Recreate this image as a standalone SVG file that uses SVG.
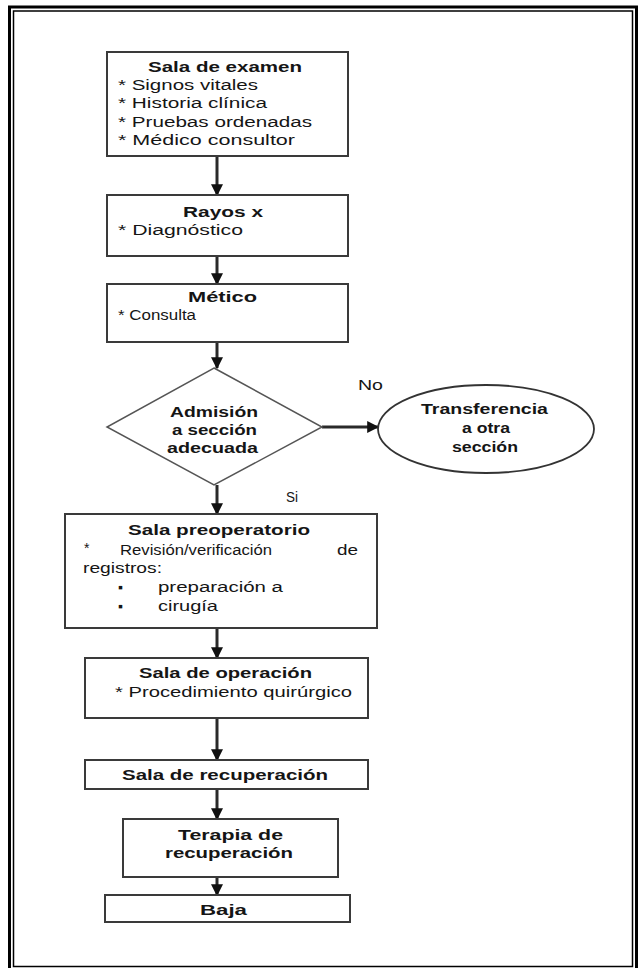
<svg xmlns="http://www.w3.org/2000/svg" width="639" height="968" viewBox="0 0 639 968">
  <style>
    .frame-outer { fill: none; stroke: #000; stroke-width: 3; }
    .frame-inner { fill: none; stroke: #000; stroke-width: 1.5; }
    .box { fill: #fff; stroke: #3a3a3a; stroke-width: 2; }
    .shape { fill: #fff; stroke: #555; stroke-width: 1.5; }
    .ell { fill: #fff; stroke: #333; stroke-width: 1.8; }
    text { font-family: "Liberation Sans", Arial, sans-serif; font-size: 14px; fill: #151515; }
    .conn { stroke: #2a2a2a; stroke-width: 3; fill: none; marker-end: url(#arrow); }
  </style>
  <defs>
    <marker id="arrow" viewBox="0 0 10 10" refX="9" refY="5" markerWidth="4" markerHeight="4" orient="auto" markerUnits="strokeWidth">
      <path d="M0,0 L10,5 L0,10 z" fill="#111"/>
    </marker>
  </defs>

  <rect width="639" height="968" fill="#fff"/>

  <!-- page frame -->
  <rect class="frame-outer" x="9.5" y="7" width="627" height="975"/>
  <rect class="frame-inner" x="13.5" y="11" width="619" height="955.5"/>

  <!-- connectors -->
  <g id="connectors">
    <line class="conn" x1="217" y1="157" x2="217" y2="195"/>
    <line class="conn" x1="217" y1="257" x2="217" y2="284"/>
    <line class="conn" x1="217" y1="343" x2="217" y2="368"/>
    <line class="conn" x1="322" y1="427" x2="378" y2="427"/>
    <line class="conn" x1="217" y1="485" x2="217" y2="514"/>
    <line class="conn" x1="217" y1="629" x2="217" y2="658"/>
    <line class="conn" x1="217" y1="719" x2="217" y2="760"/>
    <line class="conn" x1="217" y1="790" x2="217" y2="819"/>
    <line class="conn" x1="217" y1="878" x2="217" y2="895"/>
    <text x="358" y="390" textLength="25" lengthAdjust="spacingAndGlyphs">No</text>
    <text x="286" y="502" textLength="12" lengthAdjust="spacingAndGlyphs">Si</text>
  </g>

  <g id="sala-examen">
    <rect class="box" x="107" y="52" width="241" height="104"/>
    <text x="148" y="72" font-weight="bold" textLength="154" lengthAdjust="spacingAndGlyphs">Sala de examen</text>
    <text x="118" y="90" textLength="140" lengthAdjust="spacingAndGlyphs">* Signos vitales</text>
    <text x="118" y="108" textLength="149" lengthAdjust="spacingAndGlyphs">* Historia clínica</text>
    <text x="118" y="127" textLength="194" lengthAdjust="spacingAndGlyphs">* Pruebas ordenadas</text>
    <text x="118" y="145" textLength="177" lengthAdjust="spacingAndGlyphs">*  Médico consultor</text>
  </g>

  <g id="rayos-x">
    <rect class="box" x="107" y="195" width="241" height="61"/>
    <text x="183" y="217" font-weight="bold" textLength="80" lengthAdjust="spacingAndGlyphs">Rayos x</text>
    <text x="118" y="235" textLength="125" lengthAdjust="spacingAndGlyphs">* Diagnóstico</text>
  </g>

  <g id="medico">
    <rect class="box" x="107" y="284" width="241" height="58"/>
    <text x="188" y="302" font-weight="bold" textLength="69" lengthAdjust="spacingAndGlyphs">Mético</text>
    <text x="118" y="320" textLength="78" lengthAdjust="spacingAndGlyphs">* Consulta</text>
  </g>

  <g id="admision">
    <polygon class="shape" points="214,368 322,427 214,485 107,427"/>
    <text x="170" y="417" font-weight="bold" textLength="88" lengthAdjust="spacingAndGlyphs">Admisión</text>
    <text x="172" y="435" font-weight="bold" textLength="85" lengthAdjust="spacingAndGlyphs">a sección</text>
    <text x="167" y="453" font-weight="bold" textLength="91" lengthAdjust="spacingAndGlyphs">adecuada</text>
  </g>

  <g id="transferencia">
    <ellipse class="ell" cx="486" cy="429" rx="108" ry="44"/>
    <text x="421" y="414" font-weight="bold" textLength="127" lengthAdjust="spacingAndGlyphs">Transferencia</text>
    <text x="462" y="433" font-weight="bold" textLength="48" lengthAdjust="spacingAndGlyphs">a otra</text>
    <text x="452" y="452" font-weight="bold" textLength="66" lengthAdjust="spacingAndGlyphs">sección</text>
  </g>

  <g id="sala-preoperatorio">
    <rect class="box" x="65" y="514" width="312" height="114"/>
    <text x="128" y="535" font-weight="bold" textLength="182" lengthAdjust="spacingAndGlyphs">Sala preoperatorio</text>
    <text x="84" y="553">*</text>
    <text x="120" y="555" textLength="152" lengthAdjust="spacingAndGlyphs">Revisión/verificación</text>
    <text x="337" y="555" textLength="21" lengthAdjust="spacingAndGlyphs">de</text>
    <text x="83" y="573" textLength="79" lengthAdjust="spacingAndGlyphs">registros:</text>
    <text x="118" y="592">▪</text>
    <text x="158" y="592" textLength="125" lengthAdjust="spacingAndGlyphs">preparación a</text>
    <text x="118" y="611">▪</text>
    <text x="158" y="611" textLength="60" lengthAdjust="spacingAndGlyphs">cirugía</text>
  </g>

  <g id="sala-operacion">
    <rect class="box" x="85" y="658" width="283" height="60"/>
    <text x="139" y="678" font-weight="bold" textLength="173" lengthAdjust="spacingAndGlyphs">Sala de operación</text>
    <text x="115" y="697" textLength="237" lengthAdjust="spacingAndGlyphs">* Procedimiento  quirúrgico</text>
  </g>

  <g id="sala-recuperacion">
    <rect class="box" x="85" y="760" width="283" height="29"/>
    <text x="122" y="780" font-weight="bold" textLength="206" lengthAdjust="spacingAndGlyphs">Sala de recuperación</text>
  </g>

  <g id="terapia">
    <rect class="box" x="123" y="819" width="215" height="58"/>
    <text x="178" y="840" font-weight="bold" textLength="105" lengthAdjust="spacingAndGlyphs">Terapia de</text>
    <text x="165" y="858" font-weight="bold" textLength="128" lengthAdjust="spacingAndGlyphs">recuperación</text>
  </g>

  <g id="baja">
    <rect class="box" x="105" y="895" width="245" height="27"/>
    <text x="200" y="915" font-weight="bold" textLength="47" lengthAdjust="spacingAndGlyphs">Baja</text>
  </g>
</svg>
